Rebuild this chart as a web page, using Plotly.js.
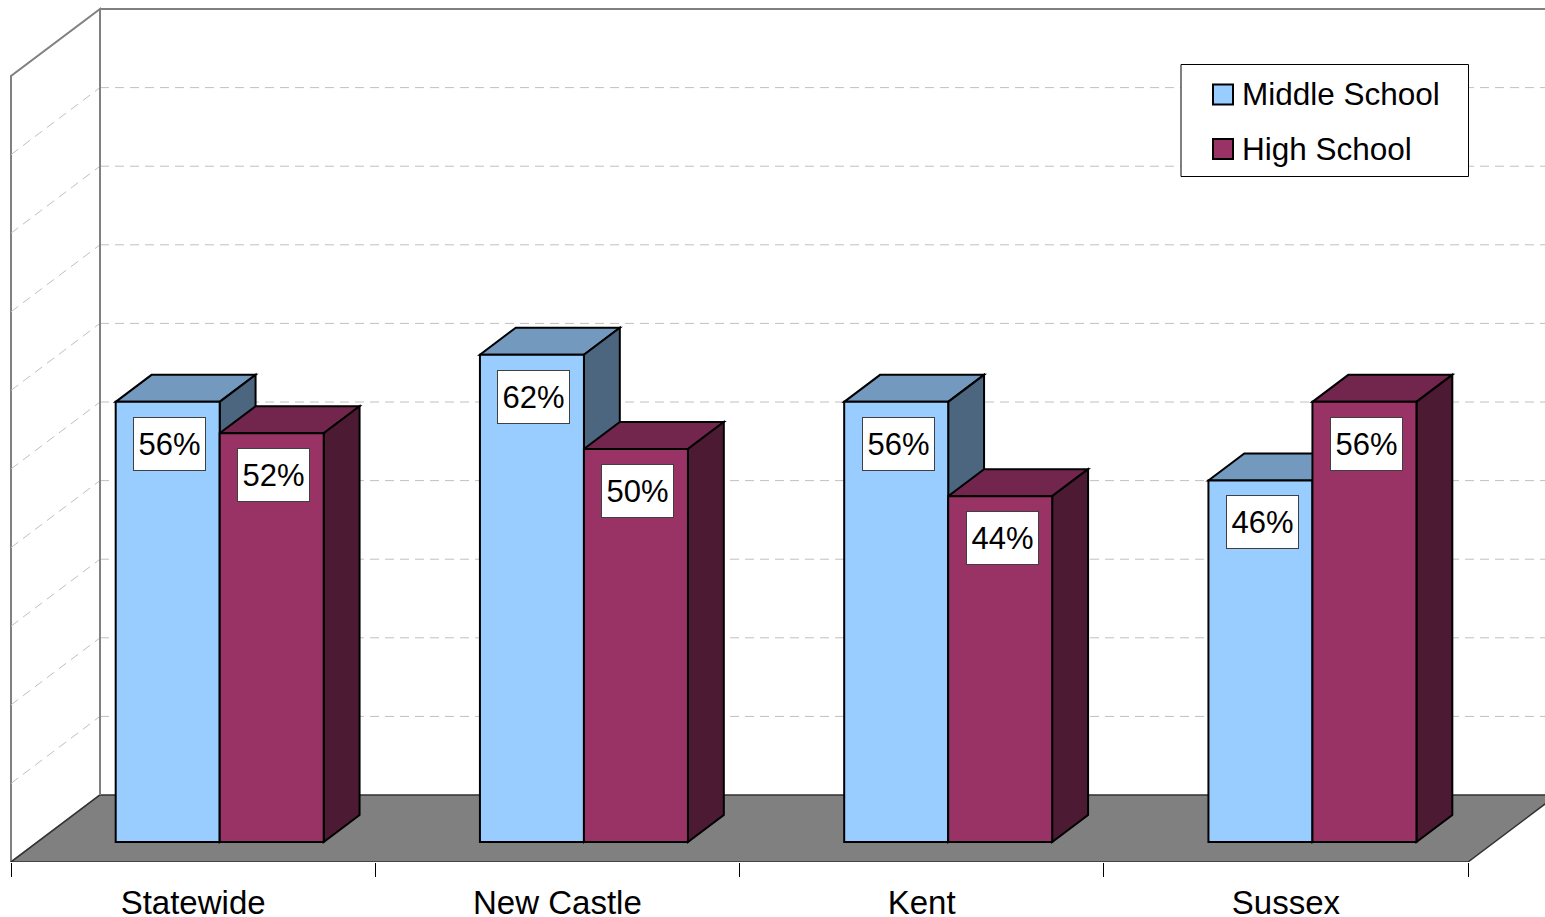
<!DOCTYPE html>
<html><head><meta charset="utf-8">
<script src="https://cdn.plot.ly/plotly-3.0.1.min.js"></script>
<style>html,body{margin:0;padding:0;background:#fff;}</style>
</head><body><div id="chart" style="width:1545px;height:917px;"></div>
<script>
// ---- data ----
const categories = ['Statewide', 'New Castle', 'Kent', 'Sussex'];
const middleSchool = [56, 62, 56, 46];
const highSchool = [52, 50, 44, 56];
const seriesNames = ['Middle School', 'High School'];
const gridValues = [10, 20, 30, 40, 50, 60, 70, 80, 90];
const wallTop = 100;

// ---- geometry / style ----
const W = 1545, H = 917, MB = 55, PH = H - MB;
const K = 364.25;            // px per category
const S = 7.86;              // px per percent
const FDX = 89, FDY = 67;    // full floor depth vector (px)
const tFront = -20 / 67, tBarBack = 27 / 67, tBack = 47 / 67;
const barW = 104 / K;
const frontBasePx = 842;
const leftPx = 11;
const x2r0 = -0.5 - leftPx / K;
const xr0 = x2r0 + tFront * FDX / K;
const xRange = [xr0, xr0 + W / K];
const x2Range = [x2r0, x2r0 + W / K];
const yRange = [-(PH - frontBasePx) / S, frontBasePx / S];

const FONT = 'Liberation Sans, Arial, sans-serif';
const colors = {
  ms: {front: '#99CCFF', top: '#7399BF', side: '#4D6680'},
  hs: {front: '#993366', top: '#73264D', side: '#4D1A33'}
};

function P(c, v, t) { return [c + t * FDX / K, v + t * FDY / S]; }
function poly(pts) {
  return pts.map((p, i) => (i ? 'L' : 'M') + p[0].toFixed(5) + ',' + p[1].toFixed(5)).join(' ') + ' Z';
}
function line(a, b) {
  return 'M' + a[0].toFixed(5) + ',' + a[1].toFixed(5) + ' L' + b[0].toFixed(5) + ',' + b[1].toFixed(5);
}

const n = categories.length;
const cLeft = -0.5, cRight = n - 0.5, cFar = n + 0.5;
const shapes = [];

// left wall
shapes.push({type: 'path', xref: 'x', yref: 'y', layer: 'below',
  path: poly([P(cLeft, 0, tFront), P(cLeft, wallTop, tFront), P(cLeft, wallTop, tBack), P(cLeft, 0, tBack)]),
  fillcolor: '#FFFFFF', line: {color: '#808080', width: 2}});
// back wall top
shapes.push({type: 'path', xref: 'x', yref: 'y', layer: 'below',
  path: line(P(cLeft, wallTop, tBack), P(cFar, wallTop, tBack)), line: {color: '#808080', width: 2}});
// gridlines
gridValues.forEach(v => {
  shapes.push({type: 'path', xref: 'x', yref: 'y', layer: 'below',
    path: line(P(cLeft, v, tBack), P(cFar, v, tBack)), line: {color: '#C0C0C0', width: 1, dash: '9px,6px'}});
  shapes.push({type: 'path', xref: 'x', yref: 'y', layer: 'below',
    path: line(P(cLeft, v, tFront), P(cLeft, v, tBack)), line: {color: '#C0C0C0', width: 1, dash: '9px,6px'}});
});
// floor
shapes.push({type: 'path', xref: 'x', yref: 'y', layer: 'below',
  path: poly([P(cLeft, 0, tFront), P(cRight, 0, tFront), P(cRight, 0, tFront + 1), P(cLeft, 0, tFront + 1)]),
  fillcolor: '#808080', line: {color: '#303030', width: 1.5}});
// back wall left edge redraw
shapes.push({type: 'path', xref: 'x', yref: 'y', layer: 'below',
  path: line(P(cLeft, 0, tBack), P(cLeft, wallTop, tBack)), line: {color: '#808080', width: 2}});

// 3D bar faces
const series = [middleSchool, highSchool];
const sc = [colors.ms, colors.hs];
for (let i = 0; i < n; i++) {
  for (let s = 0; s < 2; s++) {
    const v = series[s][i];
    const x0 = i + (s - 1) * barW, x1 = x0 + barW;
    shapes.push({type: 'path', xref: 'x', yref: 'y', layer: 'below',
      path: poly([P(x0, v, 0), P(x1, v, 0), P(x1, v, tBarBack), P(x0, v, tBarBack)]),
      fillcolor: sc[s].top, line: {color: '#000', width: 2}});
    shapes.push({type: 'path', xref: 'x', yref: 'y', layer: 'below',
      path: poly([P(x1, 0, 0), P(x1, v, 0), P(x1, v, tBarBack), P(x1, 0, tBarBack)]),
      fillcolor: sc[s].side, line: {color: '#000', width: 2}});
  }
}

// legend (manual)
const px = p => p / W, py = p => 1 - p / PH;
shapes.push({type: 'rect', xref: 'paper', yref: 'paper', x0: px(1181), x1: px(1468.5), y0: py(176.5), y1: py(64.5),
  fillcolor: '#FFFFFF', line: {color: '#000', width: 1}});
const legendRows = [94.5, 149.1];
const annotations = [];
seriesNames.forEach((name, s) => {
  const cy = legendRows[s];
  shapes.push({type: 'rect', xref: 'paper', yref: 'paper', x0: px(1213), x1: px(1233), y0: py(cy + 10), y1: py(cy - 10),
    fillcolor: sc[s].front, line: {color: '#000', width: 2}});
  annotations.push({xref: 'paper', yref: 'paper', x: px(1240), y: py(cy), xanchor: 'left', yanchor: 'middle',
    text: name, showarrow: false, font: {family: FONT, size: 31.5, color: '#000'}});
});

// value labels
for (let i = 0; i < n; i++) {
  for (let s = 0; s < 2; s++) {
    const v = series[s][i];
    annotations.push({xref: 'x', yref: 'y', x: i + (s - 0.5) * barW, y: v, xanchor: 'center', yanchor: 'top',
      yshift: -15, xshift: 2, text: v + '%', showarrow: false, width: 71, height: 52, borderpad: 0,
      bgcolor: '#FFFFFF', bordercolor: '#404040', borderwidth: 1, valign: 'middle',
      font: {family: FONT, size: 31, color: '#000'}});
  }
}

const xIdx = categories.map((c, i) => i);
const traces = [
  {type: 'bar', name: seriesNames[0], x: xIdx, y: middleSchool, xaxis: 'x', yaxis: 'y',
   marker: {color: colors.ms.front, line: {color: '#000', width: 2}}, showlegend: false, hoverinfo: 'skip'},
  {type: 'bar', name: seriesNames[1], x: xIdx, y: highSchool, xaxis: 'x', yaxis: 'y',
   marker: {color: colors.hs.front, line: {color: '#000', width: 2}}, showlegend: false, hoverinfo: 'skip'},
  {type: 'scatter', mode: 'markers', x: xIdx, y: xIdx.map(() => null), xaxis: 'x2', yaxis: 'y',
   showlegend: false, hoverinfo: 'skip'}
];

const bounds = [];
for (let i = 0; i <= n; i++) bounds.push(i - 0.5);

const layout = {
  width: W, height: H,
  margin: {l: 0, r: 0, t: 0, b: MB, pad: 0},
  paper_bgcolor: '#FFFFFF', plot_bgcolor: '#FFFFFF',
  barmode: 'group', bargap: 1 - 2 * barW, bargroupgap: 0,
  showlegend: false,
  xaxis: {range: xRange, visible: false, fixedrange: true},
  xaxis2: {range: x2Range, overlaying: 'x', anchor: 'y', side: 'bottom',
    tickmode: 'array', tickvals: xIdx, ticktext: categories, ticks: '',
    showgrid: false, zeroline: false, showline: false, ticklabelstandoff: 18,
    tickfont: {family: FONT, size: 33, color: '#000'},
    minor: {tickmode: 'array', tickvals: bounds, ticks: 'outside', ticklen: 14, tickcolor: '#000', tickwidth: 1, showgrid: false}},
  yaxis: {range: yRange, visible: false, fixedrange: true},
  shapes: shapes,
  annotations: annotations
};

Plotly.newPlot('chart', traces, layout, {staticPlot: true, displayModeBar: false});
</script>
</body></html>
